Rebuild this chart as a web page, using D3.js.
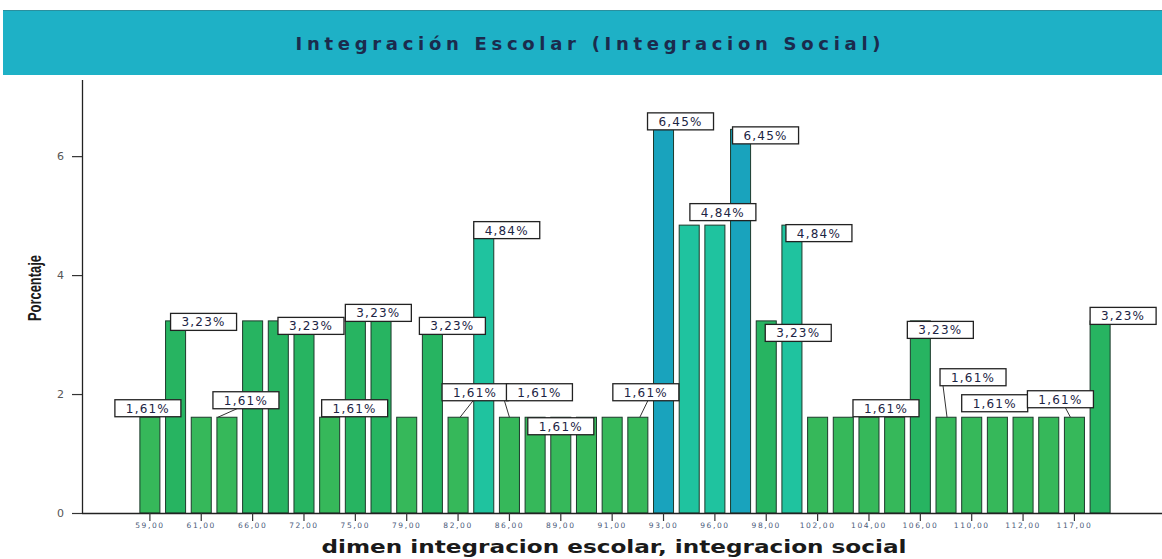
<!DOCTYPE html>
<html>
<head>
<meta charset="utf-8">
<script src="https://cdn.jsdelivr.net/npm/d3@7/dist/d3.min.js"></script>
<style>
  html, body { margin: 0; padding: 0; background: #ffffff; }
  svg { display: block; }
</style>
</head>
<body>
<svg id="chart" width="1162" height="559"></svg>
<script>
// ---- data ----
const title = "Integración Escolar (Integracion Social)";
const xTitle = "dimen integracion escolar, integracion social";
const yTitle = "Porcentaje";
const categories = ["59,00","60,00","61,00","63,00","66,00","68,00","72,00","73,00","75,00","77,00",
  "79,00","80,00","82,00","84,00","86,00","87,00","89,00","90,00","91,00","92,00",
  "93,00","95,00","96,00","97,00","98,00","100,00","102,00","103,00","104,00","105,00",
  "106,00","108,00","110,00","111,00","112,00","115,00","117,00","119,00"];
const percentages = [1.61,3.23,1.61,1.61,3.23,3.23,3.23,1.61,3.23,3.23,
  1.61,3.23,1.61,4.84,1.61,1.61,1.61,1.61,1.61,1.61,
  6.45,4.84,4.84,6.45,3.23,4.84,1.61,1.61,1.61,1.61,
  3.23,1.61,1.61,1.61,1.61,1.61,1.61,3.23];
const tickLabels = ["59,00","61,00","66,00","72,00","75,00","79,00","82,00","86,00","89,00","91,00",
  "93,00","96,00","98,00","102,00","104,00","106,00","110,00","112,00","117,00"];
const yTicks = [0, 2, 4, 6];
// which bars carry a value label (index into categories)
const labelledBars = [0,1,3,6,7,8,11,12,13,14,16,19,20,22,23,24,25,28,30,31,32,36,37];

// ---- layout / style (label placement relative to bar top, in px) ----
const labelPlacement = {
  0:{dx:-2,dy:-9}, 1:{dx:28,dy:1}, 3:{dx:19,dy:-17,lead:[-9,10]}, 6:{dx:7,dy:5},
  7:{dx:25,dy:-9}, 8:{dx:23,dy:-8}, 11:{dx:20,dy:5}, 12:{dx:17,dy:-25,lead:[2,15]},
  13:{dx:23,dy:5}, 14:{dx:30,dy:-25,lead:[0,-5]}, 16:{dx:0,dy:9}, 19:{dx:8,dy:-25,lead:[2,10]},
  20:{dx:17,dy:-8}, 22:{dx:8,dy:-13}, 23:{dx:25,dy:6}, 24:{dx:32,dy:12},
  25:{dx:27,dy:8}, 28:{dx:17,dy:-9}, 30:{dx:20,dy:9}, 31:{dx:27,dy:-40,lead:[1,-3]},
  32:{dx:23,dy:-14}, 36:{dx:-14,dy:-18,lead:[-4,-9]}, 37:{dx:23,dy:-5}
};

const W = 1162, H = 559;
const svg = d3.select("#chart");

// title band
svg.append("rect").attr("x", 3).attr("y", 10).attr("width", W - 3).attr("height", 65)
  .attr("fill", "#1eb1c6");
svg.append("line").attr("x1", 3).attr("x2", W).attr("y1", 10.5).attr("y2", 10.5)
  .attr("stroke", "#2a8f9e").attr("stroke-width", 1);
svg.append("text").attr("x", 588).attr("y", 50).attr("text-anchor", "middle")
  .attr("font-family", "DejaVu Sans, Verdana, sans-serif").attr("font-weight", "bold")
  .attr("font-size", 18).attr("fill", "#1b2b4d")
  .attr("textLength", 585).attr("lengthAdjust", "spacing")
  .text(title);

// scales
const x = d3.scaleBand().domain(categories).range([88, 1162]).paddingInner(0.22).paddingOuter(2.02);
const y = d3.scaleLinear().domain([0, 7.28]).range([513, 80]);

const color = v => v >= 6 ? "#19a3bd" : v >= 4.5 ? "#1fc39f" : v >= 3 ? "#27b461" : "#36b85a";

// bars
svg.append("g").selectAll("rect").data(percentages).join("rect")
  .attr("x", (d, i) => x(categories[i]))
  .attr("y", d => y(d))
  .attr("width", x.bandwidth())
  .attr("height", d => y(0) - y(d))
  .attr("fill", d => color(d))
  .attr("stroke", "#1d3a2c").attr("stroke-width", 1);

// axes
const yAxis = d3.axisLeft(y).tickValues(yTicks).tickSize(10).tickPadding(8).tickFormat(d3.format("d"));
const gy = svg.append("g").attr("transform", "translate(82,0)").call(yAxis);
gy.select(".domain").attr("d", "M0.5,80V513.5").attr("stroke", "#222").attr("stroke-width", 1.3);
gy.selectAll(".tick line").attr("stroke", "#333").attr("stroke-width", 1.2);
gy.selectAll(".tick text").attr("font-family", "DejaVu Sans, sans-serif").attr("font-size", 11).attr("fill", "#555");

const xAxis = d3.axisBottom(x).tickValues(tickLabels).tickSize(8).tickPadding(2).tickSizeOuter(0);
const gx = svg.append("g").attr("transform", "translate(0,513)").call(xAxis);
gx.select(".domain").attr("d", "M82,0.5H1162").attr("stroke", "#222").attr("stroke-width", 1.3);
gx.selectAll(".tick line").attr("stroke", "#333").attr("stroke-width", 1.2);
gx.selectAll(".tick text").attr("font-family", "DejaVu Sans, sans-serif").attr("font-size", 7.5)
  .attr("fill", "#4a5a7a").attr("letter-spacing", 1.6);

// axis titles
svg.append("text").attr("transform", "translate(41,288) rotate(-90)").attr("text-anchor", "middle")
  .attr("font-family", "Liberation Sans, Arial, sans-serif").attr("font-weight", "bold")
  .attr("font-size", 19).attr("fill", "#1a1a1a")
  .attr("textLength", 66).attr("lengthAdjust", "spacingAndGlyphs")
  .text(yTitle);
svg.append("text").attr("x", 614).attr("y", 553).attr("text-anchor", "middle")
  .attr("font-family", "DejaVu Sans, sans-serif").attr("font-weight", "bold")
  .attr("font-size", 17).attr("fill", "#1a1a1a")
  .attr("textLength", 585).attr("lengthAdjust", "spacingAndGlyphs")
  .text(xTitle);

// value labels
const fmt = v => v.toFixed(2).replace(".", ",") + "%";
const BW = 66, BH = 17;
const gl = svg.append("g");
labelledBars.forEach(i => {
  const v = percentages[i];
  const p = labelPlacement[i];
  const cx = x(categories[i]) + x.bandwidth() / 2;
  const top = y(v);
  const bx = cx + p.dx, by = top + p.dy;
  if (p.lead) {
    gl.append("line").attr("x1", cx + p.lead[0]).attr("y1", top)
      .attr("x2", cx + p.lead[1]).attr("y2", by + BH / 2)
      .attr("stroke", "#333").attr("stroke-width", 1);
  }
  gl.append("rect").attr("x", bx - BW / 2).attr("y", by - BH / 2).attr("width", BW).attr("height", BH)
    .attr("fill", "#ffffff").attr("stroke", "#222").attr("stroke-width", 1.3);
  gl.append("text").attr("x", bx).attr("y", by + 4.5).attr("text-anchor", "middle")
    .attr("font-family", "DejaVu Sans, sans-serif").attr("font-size", 12)
    .attr("letter-spacing", 1.2).attr("fill", "#1c2444")
    .text(fmt(v));
});
</script>
</body>
</html>
